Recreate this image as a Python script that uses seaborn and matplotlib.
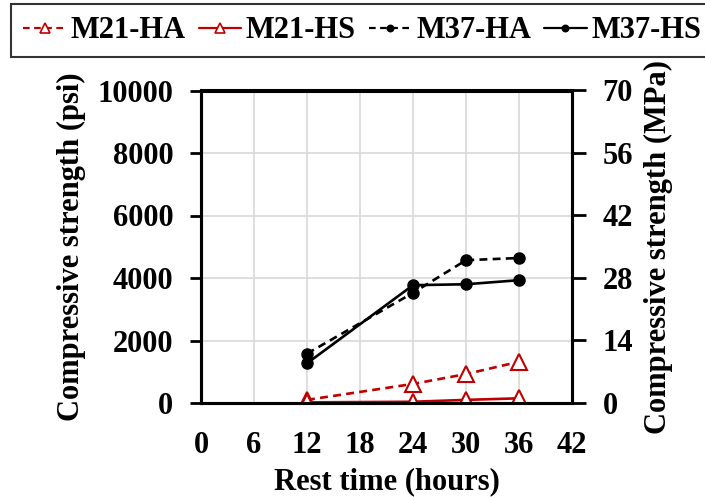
import matplotlib
matplotlib.use("Agg")
import matplotlib.pyplot as plt
from matplotlib.lines import Line2D
import seaborn as sns
import pandas as pd

hours = [12, 24, 30, 36]
m21_ha = [100, 610, 925, 1320]
m21_hs = [20, 40, 100, 150]
m37_ha = [1580, 3525, 4570, 4640]
m37_hs = [1270, 3770, 3800, 3930]
series_names = ["M21-HA", "M21-HS", "M37-HA", "M37-HS"]
x_ticks = [0, 6, 12, 18, 24, 30, 36, 42]
y_ticks_psi = [0, 2000, 4000, 6000, 8000, 10000]
y_ticks_mpa = [0, 14, 28, 42, 56, 70]

sns.set_style("white")
plt.rcParams["font.family"] = ["Liberation Serif", "DejaVu Serif"]
plt.rcParams["font.weight"] = "bold"
for k in ["text.color", "axes.labelcolor", "xtick.color", "ytick.color", "axes.edgecolor"]:
    plt.rcParams[k] = "black"

FS = 22
fig = plt.figure(figsize=(7.05, 4.97), dpi=100)
ax = fig.add_axes([201/705, 1-403/497, (572-201)/705, (403-90.5)/497])

red = "#C00000"
dash = (0, (3, 2))
styles = {
    "M21-HA": dict(color=red, ls=dash, marker="^", mfc="white", ms=11, mew=1.5),
    "M21-HS": dict(color=red, ls="-", marker="^", mfc="white", ms=11, mew=1.5),
    "M37-HA": dict(color="black", ls=dash, marker="o", mfc="black", ms=8, mew=1),
    "M37-HS": dict(color="black", ls="-", marker="o", mfc="black", ms=8, mew=1),
}
values = {"M21-HA": m21_ha, "M21-HS": m21_hs, "M37-HA": m37_ha, "M37-HS": m37_hs}
for name in series_names:
    df = pd.DataFrame({"x": hours, "y": values[name]})
    st = styles[name]
    sns.lineplot(data=df, x="x", y="y", ax=ax, color=st["color"], linestyle=st["ls"],
                 marker=st["marker"], markerfacecolor=st["mfc"], markeredgecolor=st["color"],
                 markersize=st["ms"], markeredgewidth=st["mew"], linewidth=1.9,
                 legend=False, zorder=3)

ax.set_xlim(0, 42)
ax.set_ylim(0, 10000)
ax.set_xticks(x_ticks)
ax.set_yticks(y_ticks_psi)
ax.grid(True, color="#d9d9d9", linewidth=1.2)
ax.set_axisbelow(True)
for s in ax.spines.values():
    s.set_linewidth(2.2)
ax.tick_params(axis="x", length=0, pad=20, labelsize=FS)
ax.tick_params(axis="y", direction="out", length=8, width=2, labelsize=FS, pad=12, left=True)
ax.set_xlabel("Rest time (hours)", fontsize=FS, fontweight="bold", labelpad=5)
ax.set_ylabel("Compressive strength (psi)", fontsize=FS, fontweight="bold", labelpad=8)
for lab in ax.get_xticklabels() + ax.get_yticklabels():
    lab.set_fontweight("bold")

ax2 = ax.twinx()
ax2.set_ylim(0, 70)
ax2.set_yticks(y_ticks_mpa)
ax2.tick_params(axis="y", direction="out", length=10, width=2, labelsize=FS, pad=12, right=True)
for lab in ax2.get_yticklabels():
    lab.set_fontweight("bold")
ax2.set_ylabel("Compressive strength (MPa)", fontsize=FS, fontweight="bold", labelpad=8)
for s in ax2.spines.values():
    s.set_linewidth(2.2)

handles = []
for name in series_names:
    st = styles[name]
    small = 7 if st["marker"] == "^" else 4.5
    handles.append(Line2D([], [], color=st["color"], linestyle=st["ls"], linewidth=1.6,
                          marker=st["marker"], markerfacecolor=st["mfc"],
                          markeredgecolor=st["color"], markersize=small, markeredgewidth=1.2))

leg = fig.legend(handles, series_names, loc="upper left", bbox_to_anchor=(11/705, 1-4/497),
                 ncol=4, frameon=True, fancybox=False, edgecolor="black", borderaxespad=0,
                 prop={"family": ["Liberation Serif"], "weight": "bold", "size": 22},
                 handlelength=1.4, handletextpad=0.15, columnspacing=0.42, borderpad=0.4)
leg.get_frame().set_linewidth(1.5)

fig.savefig("out.png", dpi=100)
